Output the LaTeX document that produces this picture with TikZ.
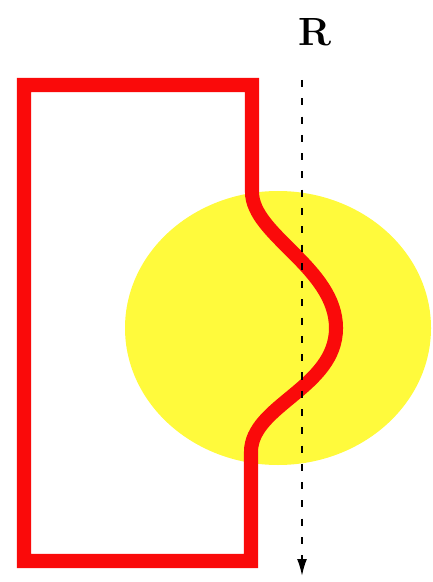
\documentclass[tikz,border=0pt]{standalone}
\usepackage{tikz}
\usetikzlibrary{arrows.meta, positioning}
\definecolor{loopred}{RGB}{250, 10, 10}
\definecolor{sunyellow}{RGB}{255, 250, 60}
\tikzset{
  loopline/.style={draw=loopred, line width=10pt, line join=miter},
  spot/.style={fill=sunyellow},
  beamarrow/.style={-{Latex[length=12pt, width=7pt]}, dash pattern=on 5pt off 8pt, line width=1.3pt, color=black},
  beamlabel/.style={font=\fontsize{28}{30}\selectfont\bfseries, inner sep=0pt},
}

\begin{document}
\begin{tikzpicture}[x=0.025cm, y=-0.025cm]
  \useasboundingbox (0,0) rectangle (432,582);

  % yellow spot
  \fill[spot] (278,328) ellipse [x radius=153, y radius=137];

  % red loop with the bent side
  \draw[loopline] (252,85) -- (252,192)
        .. controls (252,235) and (336,268) .. (336,328)
        .. controls (336,388) and (251,405) .. (251,452)
        -- (251,561) -- (24,561) -- (24,85) -- cycle;

  % beam
  \coordinate (top) at (302,80);
  \coordinate (bot) at (302,576);
  \draw[beamarrow] (top) -- (bot);
  \node[beamlabel] (rlabel) at (315,32) {R};
\end{tikzpicture}
\end{document}
